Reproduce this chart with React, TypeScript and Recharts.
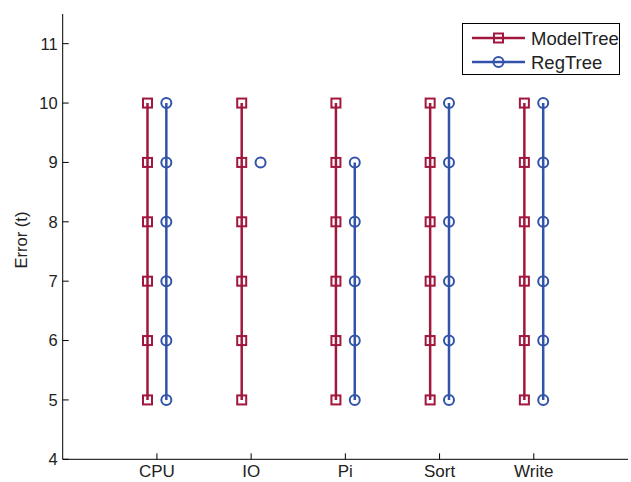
import React from 'react';
import { ScatterChart, Scatter, XAxis, YAxis, Legend } from 'recharts';

const categories = ['CPU', 'IO', 'Pi', 'Sort', 'Write'];
const modelTreeValues = [
  [5, 6, 7, 8, 9, 10],
  [5, 6, 7, 8, 9, 10],
  [5, 6, 7, 8, 9, 10],
  [5, 6, 7, 8, 9, 10],
  [5, 6, 7, 8, 9, 10],
];
const regTreeValues = [
  [5, 6, 7, 8, 9, 10],
  [9],
  [5, 6, 7, 8, 9],
  [5, 6, 7, 8, 9, 10],
  [5, 6, 7, 8, 9, 10],
];
const yTicks = [4, 5, 6, 7, 8, 9, 10, 11];
const xTicks = [1, 2, 3, 4, 5];
const seriesOffset = 0.1;

const RED = '#A1173D';
const BLUE = '#3253AA';
const FONT = '"Liberation Sans", Arial, Helvetica, sans-serif';
const TICK_FS = 16.5;

const buildSeries = (values: number[][], offset: number) =>
  values.map((vals, i) => vals.map((v) => ({ x: i + 1 + offset, y: v })));

const modelSeries = buildSeries(modelTreeValues, -seriesOffset);
const regSeries = buildSeries(regTreeValues, seriesOffset);

const SquareMarker = (props: any) => {
  const { cx, cy } = props;
  if (cx == null || cy == null) return null;
  return <rect x={cx - 4.5} y={cy - 4.5} width={9} height={9} fill="none" stroke={RED} strokeWidth={2} />;
};
const CircleMarker = (props: any) => {
  const { cx, cy } = props;
  if (cx == null || cy == null) return null;
  return <circle cx={cx} cy={cy} r={5} fill="none" stroke={BLUE} strokeWidth={2} />;
};

const BottomTick = (props: any) => {
  const { x, y, payload } = props;
  return (
    <g>
      <line x1={x} y1={y} x2={x} y2={y - 6} stroke="#000" strokeWidth={1} />
      <text x={x} y={y + 17.5} textAnchor="middle" fontSize={17} fontFamily={FONT} fill="#222">
        {categories[payload.value - 1]}
      </text>
    </g>
  );
};
const TopTick = (props: any) => {
  const { x, y } = props;
  return <line x1={x} y1={y} x2={x} y2={y + 6} stroke="#000" strokeWidth={1} />;
};
const LeftTick = (props: any) => {
  const { x, y, payload } = props;
  return (
    <g>
      <line x1={x} y1={y} x2={x + 6} y2={y} stroke="#000" strokeWidth={1} />
      <text x={x - 5} y={y} dy="0.36em" textAnchor="end" fontSize={TICK_FS} fontFamily={FONT} fill="#222">
        {payload.value}
      </text>
    </g>
  );
};
const RightTick = (props: any) => {
  const { x, y } = props;
  return <line x1={x} y1={y} x2={x - 6} y2={y} stroke="#000" strokeWidth={1} />;
};

const legendItems = [
  { name: 'ModelTree', color: RED, marker: 'square' },
  { name: 'RegTree', color: BLUE, marker: 'circle' },
];

const renderLegend = () => (
  <div style={{ width: 158, height: 52, border: '1px solid #000', background: '#fff', boxSizing: 'border-box' }}>
    <svg width={156} height={50} style={{ display: 'block' }}>
      {legendItems.map((it, i) => {
        const cy = 14 + i * 24;
        return (
          <g key={it.name}>
            <line x1={9} y1={cy} x2={62} y2={cy} stroke={it.color} strokeWidth={2.5} />
            {it.marker === 'square' ? (
              <rect x={35.5 - 4.5} y={cy - 4.5} width={9} height={9} fill="none" stroke={it.color} strokeWidth={2} />
            ) : (
              <circle cx={35.5} cy={cy} r={5} fill="none" stroke={it.color} strokeWidth={2} />
            )}
            <text x={68} y={cy} dy="0.36em" fontSize={18.5} fontFamily={FONT} fill="#222">
              {it.name}
            </text>
          </g>
        );
      })}
    </svg>
  </div>
);

const YLabel = () => (
  <text
    x={21}
    y={240}
    transform="rotate(-90 21 240)"
    textAnchor="middle"
    dy="0.36em"
    fontSize={TICK_FS}
    fontFamily={FONT}
    fill="#222"
  >
    Error (t)
  </text>
);

export default function App() {
  return (
    <div style={{ position: 'absolute', left: 0, top: 0, width: 631, height: 482, background: '#fff' }}>
      <ScatterChart width={631} height={482} margin={{ top: 14, right: 3, bottom: 0, left: 0 }}>
        <XAxis
          xAxisId="bottom"
          type="number"
          dataKey="x"
          domain={[0, 6]}
          ticks={xTicks}
          height={22.7}
          tickSize={0}
          tickMargin={0}
          tickLine={false}
          axisLine={{ stroke: '#000', strokeWidth: 1 }}
          tick={<BottomTick />}
          interval={0}
          allowDataOverflow
        />
        <XAxis
          xAxisId="top"
          orientation="top"
          type="number"
          dataKey="x"
          domain={[0, 6]}
          ticks={xTicks}
          height={0}
          tickSize={0}
          tickMargin={0}
          tickLine={false}
          axisLine={{ stroke: '#000', strokeWidth: 1 }}
          tick={<TopTick />}
          interval={0}
          allowDataOverflow
        />
        <YAxis
          yAxisId="left"
          type="number"
          dataKey="y"
          domain={[4, 11.5]}
          ticks={yTicks}
          width={62.7}
          tickSize={0}
          tickMargin={0}
          tickLine={false}
          axisLine={{ stroke: '#000', strokeWidth: 1 }}
          tick={<LeftTick />}
          interval={0}
          allowDataOverflow
          label={{ content: () => <YLabel /> }}
        />
        <YAxis
          yAxisId="right"
          orientation="right"
          type="number"
          dataKey="y"
          domain={[4, 11.5]}
          ticks={yTicks}
          width={0}
          tickSize={0}
          tickMargin={0}
          tickLine={false}
          axisLine={{ stroke: '#000', strokeWidth: 1 }}
          tick={<RightTick />}
          interval={0}
          allowDataOverflow
        />
        {modelSeries.map((d, i) => (
          <Scatter
            key={'m' + i}
            name="ModelTree"
            data={d}
            xAxisId="bottom"
            yAxisId="left"
            line={{ stroke: RED, strokeWidth: 2.5 }}
            shape={<SquareMarker />}
            isAnimationActive={false}
          />
        ))}
        {regSeries.map((d, i) => (
          <Scatter
            key={'r' + i}
            name="RegTree"
            data={d}
            xAxisId="bottom"
            yAxisId="left"
            line={{ stroke: BLUE, strokeWidth: 2.5 }}
            shape={<CircleMarker />}
            isAnimationActive={false}
          />
        ))}
        <Legend
          layout="vertical"
          align="center"
          verticalAlign="middle"
          content={renderLegend}
          wrapperStyle={{ position: 'absolute', left: 462, top: 23, width: 158, height: 52 }}
        />
      </ScatterChart>
    </div>
  );
}
